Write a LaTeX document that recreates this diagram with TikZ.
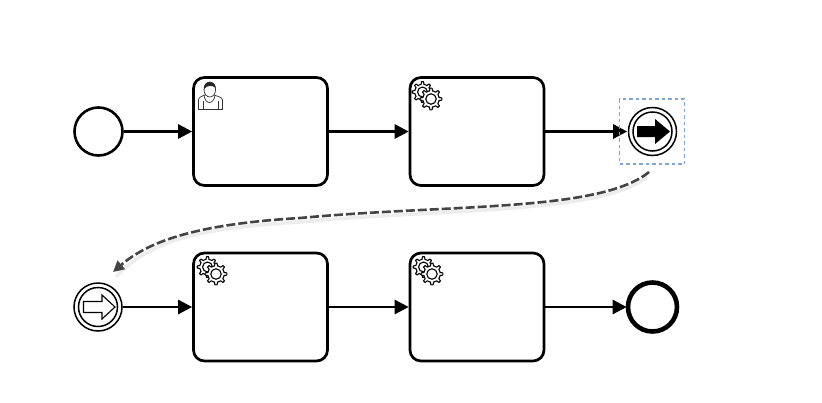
\documentclass[tikz,border=0pt]{standalone}
\usetikzlibrary{arrows.meta,calc,shapes.geometric}
\definecolor{selblue}{HTML}{7FA6D0}
\definecolor{linkgray}{HTML}{444444}
\tikzset{
  x=1pt,y=-1pt,
  task/.style={draw=black,line width=2.7pt,rounded corners=11pt,minimum width=134pt,minimum height=108pt,inner sep=0pt,outer sep=1.3pt},
  evt/.style={circle,draw=black,line width=2.6pt,minimum size=48pt,inner sep=0pt,outer sep=1.3pt},
  flow/.style={-{Triangle[length=14pt,width=14pt]},line width=2.5pt,black},
  icon/.style={line width=0.7pt,black!80},
  pics/gear/.style={code={
    \draw[line width=1.1pt,black,fill=white,line join=round] plot[samples=65,domain=0:360] (\x:{#1*(1+0.14*(cos(8*\x)>0?1:-1))}) -- cycle;
    \draw[line width=1.1pt,black] (0,0) circle ({#1*0.55});
  }}
}
\newcommand{\cogpair}[2]{%
  \pic at (#1-4.5,#2-3.5) {gear=9};
  \pic at (#1+4,#2+3.5) {gear=9.5};
}
\begin{document}
\begin{tikzpicture}
\useasboundingbox (0,0) rectangle (822,402);
\fill[white] (0,0) rectangle (822,402);
% tasks
\node[task] (t1) at (260.5,131.5) {};
\node[task] (t2) at (477,131.5) {};
\node[task] (t3) at (260.5,307) {};
\node[task] (t4) at (477,307) {};
% events
\node[evt] (start) at (98.5,131.5) {};
\node[evt,line width=1.5pt,minimum size=48pt] (thr) at (652.5,131.5) {};
\node[circle,draw,line width=1.5pt,minimum size=39pt,inner sep=0pt] (thri) at (thr) {};
\node[evt,line width=1.5pt,minimum size=48pt] (cat) at (98,307) {};
\node[circle,draw,line width=1.5pt,minimum size=39pt,inner sep=0pt] (cati) at (cat) {};
\node[evt,line width=4.6pt,minimum size=49pt] (end) at (652.5,307) {};
% flows
\draw[flow] (start) -- (t1);
\draw[flow] (t1) -- (t2);
\draw[flow] (t2) -- (thr);
\draw[flow] (cat) -- (t3);
\draw[flow] (t3) -- (t4);
\draw[flow] (t4) -- (end);
% selection box
\node[draw=selblue,line width=1.3pt,dash pattern=on 3.5pt off 3pt,minimum width=65pt,minimum height=65pt,inner sep=0pt] (selbox) at (652,131.5) {};
% arrows in events
\fill[black] (637,126) -- (655,126) -- (655,119) -- (670,131.5) -- (655,144) -- (655,137) -- (637,137) -- cycle;
\draw[black,line width=1.1pt,fill=white] (83.5,301.5) -- (102,301.5) -- (102,295) -- (115,307) -- (102,319) -- (102,312.5) -- (83.5,312.5) -- cycle;
% user icon
\draw[icon,fill=white] (198.5,109.5) -- (198.5,100) .. controls (198.5,97) and (202,96.5) .. (204.5,95) -- (214.5,95) .. controls (217,96.5) and (222.5,97) .. (222.5,100) -- (222.5,109.5) -- cycle;
\draw[icon] (203,109.5) -- (203,101) (218,109.5) -- (218,101);
\draw[icon] (204,95) .. controls (205,105) and (214,105) .. (215,95);
\draw[icon,fill=white] (209.8,89.5) ellipse (5.8 and 7.5);
\fill[black!85] (204,89) .. controls (203,80) and (216,80) .. (215.6,88) .. controls (213,85) and (207,85) .. (204,89) -- cycle;
% gears
\cogpair{427}{95.5}
\cogpair{212}{270.5}
\cogpair{428}{270.5}
% dashed link
\coordinate (linkA) at (649,172);
\coordinate (linkB) at (113,272);
\draw[gray!30,line width=3.5pt,opacity=.45] ($(linkA)+(-2,5)$) .. controls (600,214) and (450,208) .. (300,222) .. controls (200,228) and (150,240) .. ($(linkB)+(3,5)$);
\draw[linkgray,line width=2.6pt,dash pattern=on 9pt off 3pt,-{Triangle[length=11pt,width=11pt]}] (linkA) .. controls (600,212) and (450,204) .. (300,218) .. controls (200,224) and (150,240) .. (linkB);
\end{tikzpicture}
\end{document}
